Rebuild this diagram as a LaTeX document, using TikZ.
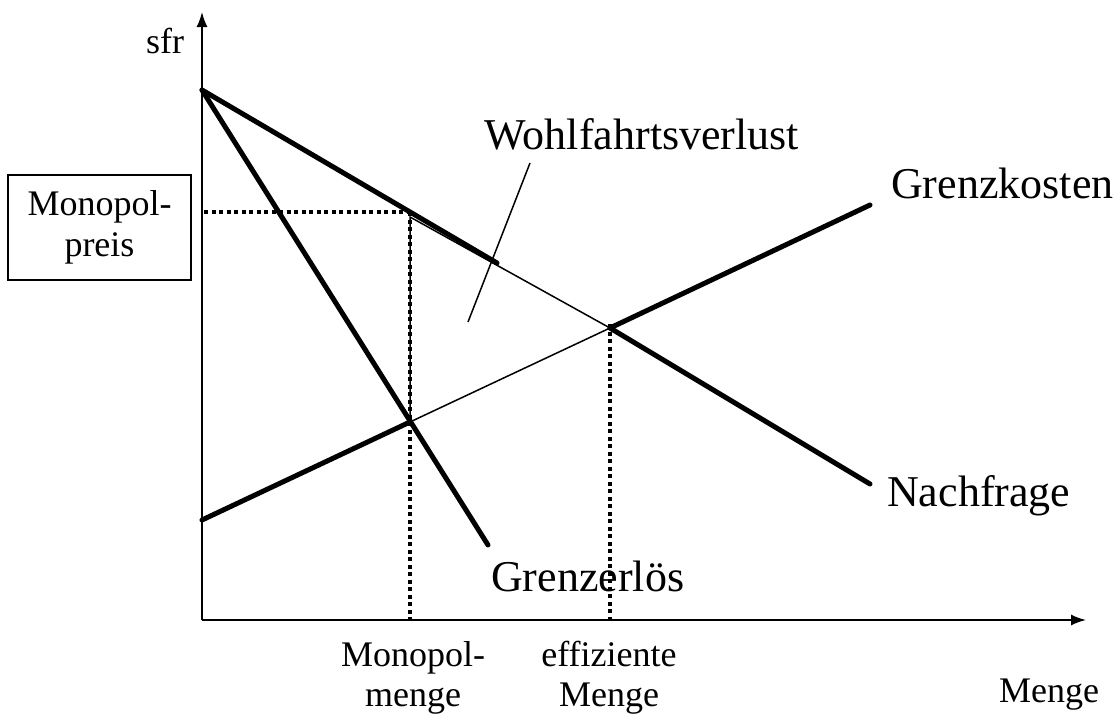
\documentclass[tikz,border=0pt]{standalone}
\usepackage{fontspec}
\setmainfont{Liberation Serif}
\usetikzlibrary{arrows.meta}
\tikzset{
  thickln/.style={line width=5pt, line cap=round},
  thinln/.style={line width=1.5pt},
  dotln/.style={line width=3.5pt, dash pattern=on 4pt off 3.5pt},
  axisln/.style={line width=1.6pt, -{Latex[length=15pt,width=11pt]}},
  biglbl/.style={font=\fontsize{44}{50}\selectfont, inner sep=0pt},
  smalllbl/.style={font=\fontsize{36}{40}\selectfont, inner sep=0pt, align=center},
}
\begin{document}
\begin{tikzpicture}[x=1pt,y=-1pt]
\useasboundingbox (0,0) rectangle (1119,720);
% key points
\coordinate (O) at (202,620);
\coordinate (ytop) at (202,12);
\coordinate (xend) at (1086,620);
\coordinate (A) at (202,90);
\coordinate (Dend) at (870,484);
\coordinate (P) at (497,263);
\coordinate (MCs) at (202,520);
\coordinate (MCe) at (870,205);
\coordinate (MRe) at (488,545);
\coordinate (M1) at (410,212);
\coordinate (T1) at (410,217);
\coordinate (M2) at (410,422);
\coordinate (E) at (610,328);
\coordinate (M1b) at (410,620);
\coordinate (Eb) at (610,620);
\coordinate (Et) at (610,324);
\coordinate (P0) at (204,212);
\coordinate (L1) at (530,163);
\coordinate (L2) at (468,322);
% axes
\draw[axisln] (O) -- (ytop);
\draw[axisln] (O) -- (xend);
% dotted guides
\draw[dotln] (P0) -- (M1);
\draw[dotln] (M1) -- (M1b);
\draw[dotln] (Et) -- (Eb);
% welfare loss triangle
\draw[thinln] (T1) -- (E) -- (M2) -- cycle;
% curves
\draw[thickln] (A) -- (P);
\draw[thickln] (E) -- (Dend);
\draw[thickln] (A) -- (MRe);
\draw[thickln] (MCs) -- (M2);
\draw[thickln] (E) -- (MCe);
% leader
\draw[thinln] (L1) -- (L2);
% box
\node[draw, line width=1.3pt, minimum width=183pt, minimum height=105pt, inner sep=0pt,
      font=\fontsize{36}{41}\selectfont, align=center] (box) at (99.5,227.5) {Monopol-\\preis};
% labels
\node[smalllbl] (sfr) at (165,41) {sfr};
\node[biglbl] (wv) at (642,134) {Wohlfahrtsverlust};
\node[biglbl, anchor=west] (gk) at (891,183) {Grenzkosten};
\node[biglbl, anchor=west] (nf) at (887,496) {Nachfrage};
\node[biglbl, anchor=west] (ge) at (491,576) {Grenzerlös};
\node[smalllbl] (mm) at (413,678) {Monopol-\\menge};
\node[smalllbl] (em) at (609,678) {effiziente\\Menge};
\node[smalllbl] (me) at (1049,695) {Menge};
\end{tikzpicture}
\end{document}
